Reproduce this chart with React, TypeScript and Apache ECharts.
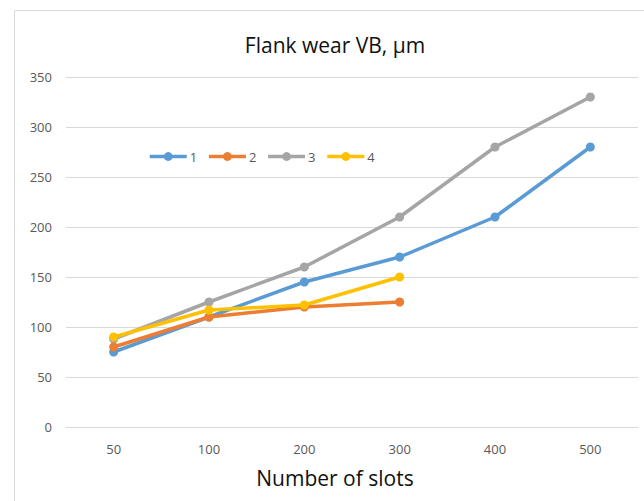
import React, { useEffect, useRef } from "react";
import * as echarts from "echarts";

const categories = ["50", "100", "200", "300", "400", "500"];
const series1 = [75, 110, 145, 170, 210, 280];
const series2 = [80, 110, 120, 125];
const series3 = [88, 125, 160, 210, 280, 330];
const series4 = [90, 117, 122, 150];
const seriesNames = ["1", "2", "3", "4"];
const colors = ["#5B9BD5", "#ED7D31", "#A5A5A5", "#FFC000"];

export default function App() {
  const ref = useRef<HTMLDivElement>(null);
  useEffect(() => {
    if (!ref.current) return;
    const chart = echarts.init(ref.current, undefined, { renderer: "svg" });
    const data = [series1, series2, series3, series4];
    const font = "'Open Sans', 'Noto Sans', sans-serif";
    chart.setOption({
      animation: false,
      backgroundColor: "#ffffff",
      textStyle: { fontFamily: font },
      grid: { left: 66, right: 6, top: 77, bottom: 74, containLabel: false },
      legend: {
        left: 143,
        top: 145,
        itemWidth: 37,
        itemHeight: 11,
        itemGap: 10,
        lineStyle: { width: 3.5 },
        textStyle: { fontSize: 13, color: "#595959", fontFamily: font, padding: [0, 0, 0, -2] },
        data: seriesNames,
      },
      graphic: [
        {
          type: "rect",
          shape: { x: 14.5, y: 10.5, width: 700, height: 600 },
          style: { fill: "none", stroke: "#d9d9d9", lineWidth: 1 },
          silent: true,
        },
        {
          type: "text",
          x: 335,
          y: 45,
          style: {
            text: "Flank wear VB, µm",
            fontSize: 21,
            fontFamily: font,
            fill: "#111111",
            align: "center",
            verticalAlign: "middle",
          },
        },
        {
          type: "text",
          x: 335,
          y: 478,
          style: {
            text: "Number of slots",
            fontSize: 21,
            fontFamily: font,
            fill: "#111111",
            align: "center",
            verticalAlign: "middle",
          },
        },
      ],
      xAxis: {
        type: "category",
        data: categories,
        boundaryGap: true,
        axisLine: { show: true, lineStyle: { color: "#d9d9d9", width: 1 } },
        axisTick: { show: false },
        axisLabel: { color: "#595959", fontSize: 13, margin: 15, fontFamily: font },
        splitLine: { show: false },
      },
      yAxis: {
        type: "value",
        min: 0,
        max: 350,
        interval: 50,
        axisLine: { show: false },
        axisTick: { show: false },
        axisLabel: { color: "#595959", fontSize: 13, margin: 14, fontFamily: font },
        splitLine: { show: true, lineStyle: { color: "#d9d9d9", width: 1 } },
      },
      series: data.map((d, i) => ({
        name: seriesNames[i],
        type: "line",
        data: d,
        symbol: "circle",
        symbolSize: 9,
        color: colors[i],
        lineStyle: { width: 3.5, color: colors[i] },
        itemStyle: { color: colors[i] },
        z: i === 3 ? 4 : i === 1 ? 3 : i === 0 ? 2 : 1,
      })),
    });
    return () => chart.dispose();
  }, []);
  return <div ref={ref} style={{ position: "absolute", left: 0, top: 0, width: 644, height: 501 }} />;
}
